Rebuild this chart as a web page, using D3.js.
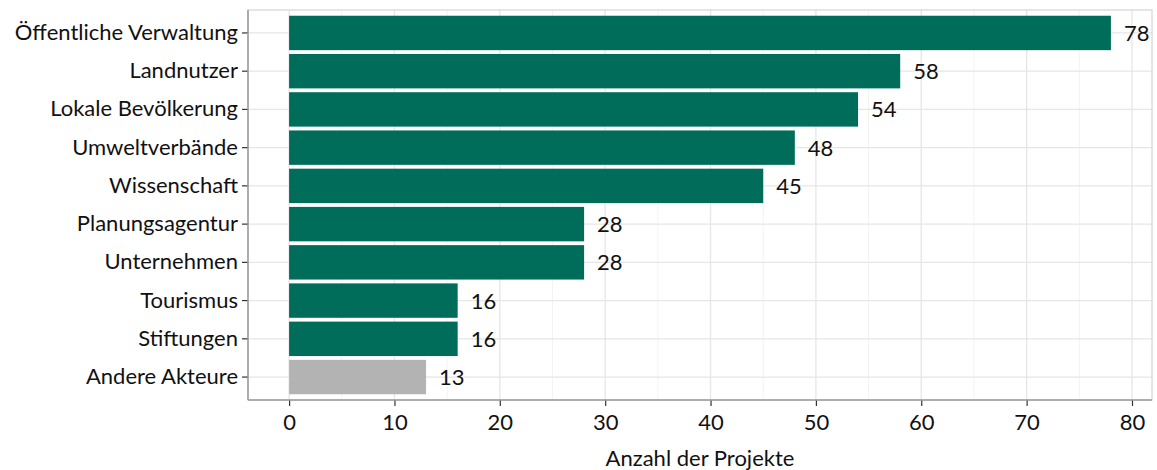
<!DOCTYPE html>
<html>
<head>
<meta charset="utf-8">
<script src="https://cdn.jsdelivr.net/npm/d3@7"></script>
<style>
  body { margin: 0; background: #fff; }
  text { font-family: Lato, "Open Sans", sans-serif; fill: #111; }
</style>
</head>
<body>
<svg width="1157" height="470"></svg>
<script>
var categories = ["Öffentliche Verwaltung", "Landnutzer", "Lokale Bevölkerung", "Umweltverbände",
  "Wissenschaft", "Planungsagentur", "Unternehmen", "Tourismus", "Stiftungen", "Andere Akteure"];
var values = [78, 58, 54, 48, 45, 28, 28, 16, 16, 13];
var xTicks = [0, 10, 20, 30, 40, 50, 60, 70, 80];
var xTitle = "Anzahl der Projekte";

var svg = d3.select("svg");

var pLeft = 248, pRight = 1152, pTop = 10, pBottom = 400;
var fontSize = 22;

var x = d3.scaleLinear()
    .domain([-3.9, 81.9])
    .range([pLeft, pRight]);

var y = d3.scaleBand()
    .domain(categories)
    .range([pTop, pBottom])
    .paddingInner(0.1)
    .paddingOuter(0.15);

// minor grid
svg.append("g")
    .selectAll("line")
    .data(d3.range(5, 81, 10))
    .join("line")
    .attr("x1", d => x(d)).attr("x2", d => x(d))
    .attr("y1", pTop).attr("y2", pBottom)
    .attr("stroke", "#f3f3f3")
    .attr("stroke-width", 1);

// major grid
svg.append("g")
    .selectAll("line")
    .data(xTicks)
    .join("line")
    .attr("x1", d => x(d)).attr("x2", d => x(d))
    .attr("y1", pTop).attr("y2", pBottom)
    .attr("stroke", "#e6e6e6")
    .attr("stroke-width", 1.3);

svg.append("g")
    .selectAll("line")
    .data(categories)
    .join("line")
    .attr("x1", pLeft).attr("x2", pRight)
    .attr("y1", d => y(d) + y.bandwidth() / 2)
    .attr("y2", d => y(d) + y.bandwidth() / 2)
    .attr("stroke", "#e6e6e6")
    .attr("stroke-width", 1.3);

// panel border top/right
svg.append("rect")
    .attr("x", pLeft).attr("y", pTop)
    .attr("width", pRight - pLeft).attr("height", pBottom - pTop)
    .attr("fill", "none")
    .attr("stroke", "#d4d4d4")
    .attr("stroke-width", 1.2);

// bars
svg.append("g")
    .selectAll("rect")
    .data(values)
    .join("rect")
    .attr("x", x(0))
    .attr("y", (d, i) => y(categories[i]))
    .attr("width", d => x(d) - x(0))
    .attr("height", y.bandwidth())
    .attr("fill", (d, i) => categories[i] == "Andere Akteure" ? "#b3b3b3" : "#006d5a");

// value labels
svg.append("g")
    .selectAll("text")
    .data(values)
    .join("text")
    .attr("x", d => x(d) + 13)
    .attr("y", (d, i) => y(categories[i]) + y.bandwidth() / 2)
    .attr("dy", "0.36em")
    .attr("font-size", fontSize)
    .text(d => d);

// axes
var xAxis = svg.append("g")
    .attr("transform", "translate(0," + pBottom + ")")
    .call(d3.axisBottom(x).tickValues(xTicks).tickSize(6).tickPadding(8));
xAxis.select(".domain").remove();
xAxis.selectAll(".tick line").attr("stroke", "#333").attr("stroke-width", 1.2);
xAxis.selectAll(".tick text").attr("font-size", fontSize).attr("font-family", "Lato, sans-serif").attr("fill", "#111");

var yAxis = svg.append("g")
    .attr("transform", "translate(" + pLeft + ",0)")
    .call(d3.axisLeft(y).tickSize(6).tickPadding(4));
yAxis.select(".domain").remove();
yAxis.selectAll(".tick line").attr("stroke", "#333").attr("stroke-width", 1.2);
yAxis.selectAll(".tick text").attr("font-size", fontSize).attr("font-family", "Lato, sans-serif").attr("fill", "#111");

// left and bottom axis lines
svg.append("line")
    .attr("x1", pLeft).attr("x2", pLeft).attr("y1", pTop).attr("y2", pBottom)
    .attr("stroke", "#9a9a9a").attr("stroke-width", 1.5);
svg.append("line")
    .attr("x1", pLeft).attr("x2", pRight).attr("y1", pBottom).attr("y2", pBottom)
    .attr("stroke", "#9a9a9a").attr("stroke-width", 1.5);

svg.append("text")
    .attr("x", (pLeft + pRight) / 2)
    .attr("y", 466)
    .attr("text-anchor", "middle")
    .attr("font-size", fontSize)
    .text(xTitle);
</script>
</body>
</html>
